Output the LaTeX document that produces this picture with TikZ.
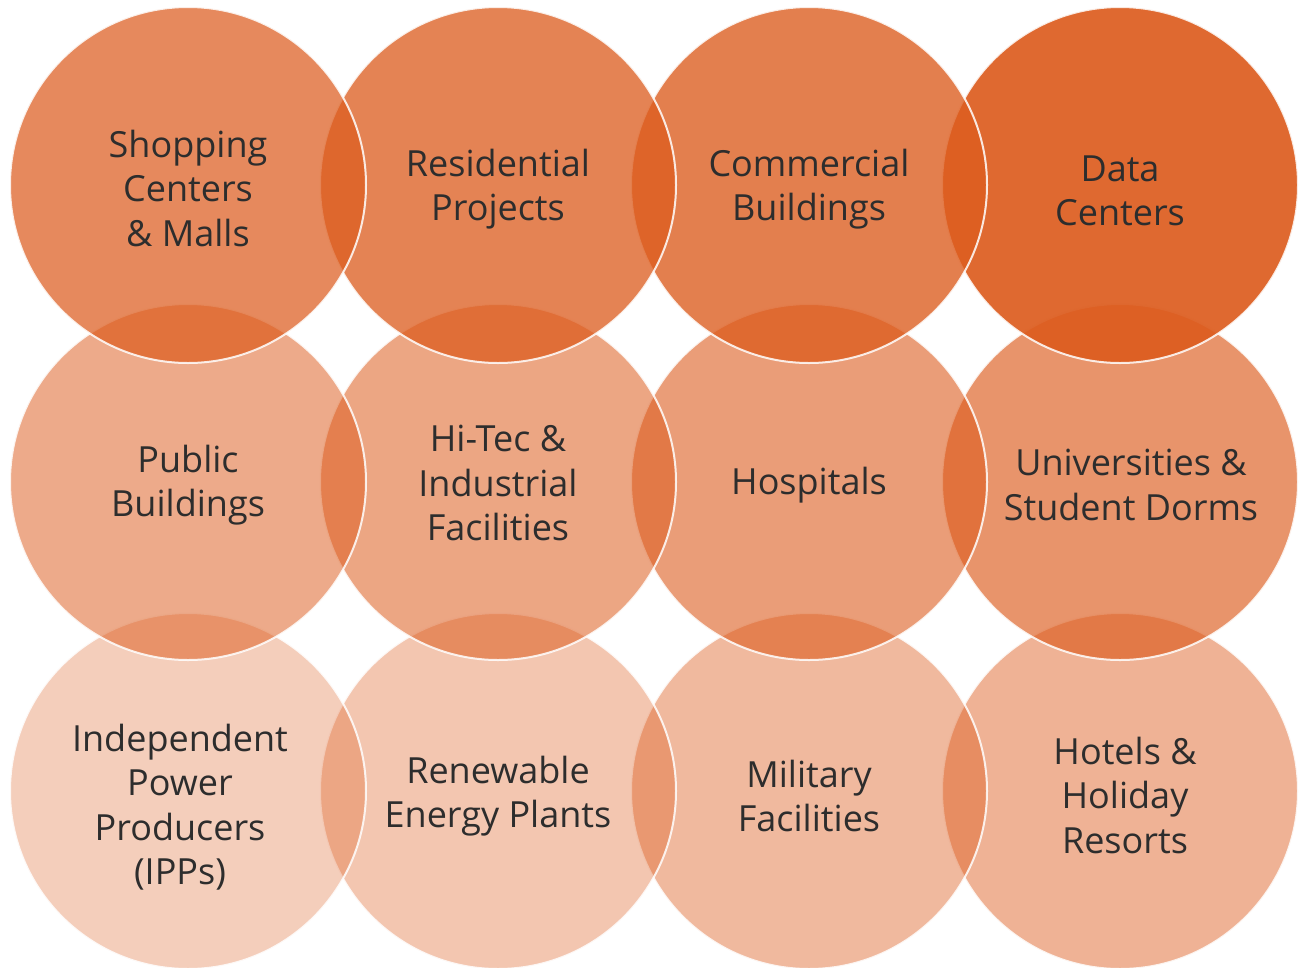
\documentclass[tikz,border=0pt]{standalone}
\usepackage{fontspec}
\setmainfont{Open Sans}
\definecolor{base}{RGB}{220,92,30}
\definecolor{txt}{RGB}{45,45,45}
\begin{document}
\begin{tikzpicture}[x=1pt,y=-1pt,
 bub/.style={circle, minimum size=356pt, inner sep=0pt, fill=base, fill opacity=#1, draw=white, draw opacity=0.85, line width=2pt},
 lbl/.style={align=center, text=txt, font=\fontsize{36}{44.5}\selectfont}]
\useasboundingbox (0,0) rectangle (1301,967);
% bottom row (drawn first)
\node[bub=0.47] (c12) at (1120,791) {};
\node[bub=0.43] (c11) at (809,791) {};
\node[bub=0.35] (c10) at (498,791) {};
\node[bub=0.30] (c9) at (188,791) {};
% middle row
\node[bub=0.66] (c8) at (1120,482) {};
\node[bub=0.60] (c7) at (809,482) {};
\node[bub=0.55] (c6) at (498,482) {};
\node[bub=0.52] (c5) at (188,482) {};
% top row
\node[bub=0.92] (c4) at (1120,185) {};
\node[bub=0.79] (c3) at (809,185) {};
\node[bub=0.76] (c2) at (498,185) {};
\node[bub=0.72] (c1) at (188,185) {};
% labels
\node[lbl] (t1) at (188,188) {Shopping\\Centers\\\& Malls};
\node[lbl] (t2) at (498,189) {Residential\\Projects};
\node[lbl] (t3) at (809,189) {Commercial\\Buildings};
\node[lbl] (t4) at (1120,191) {Data\\Centers};
\node[lbl] (t5) at (188,485) {Public\\Buildings};
\node[lbl] (t6) at (498,483) {Hi-Tec \&\\Industrial\\Facilities};
\node[lbl] (t7) at (809,485) {Hospitals};
\node[lbl] (t8) at (1131,485) {Universities \&\\Student Dorms};
\node[lbl] (t9) at (180,807) {Independent\\Power\\Producers\\(IPPs)};
\node[lbl] (t10) at (498,796) {Renewable\\Energy Plants};
\node[lbl] (t11) at (809,796) {Military\\Facilities};
\node[lbl] (t12) at (1125,795) {Hotels \&\\Holiday\\Resorts};
\end{tikzpicture}
\end{document}
